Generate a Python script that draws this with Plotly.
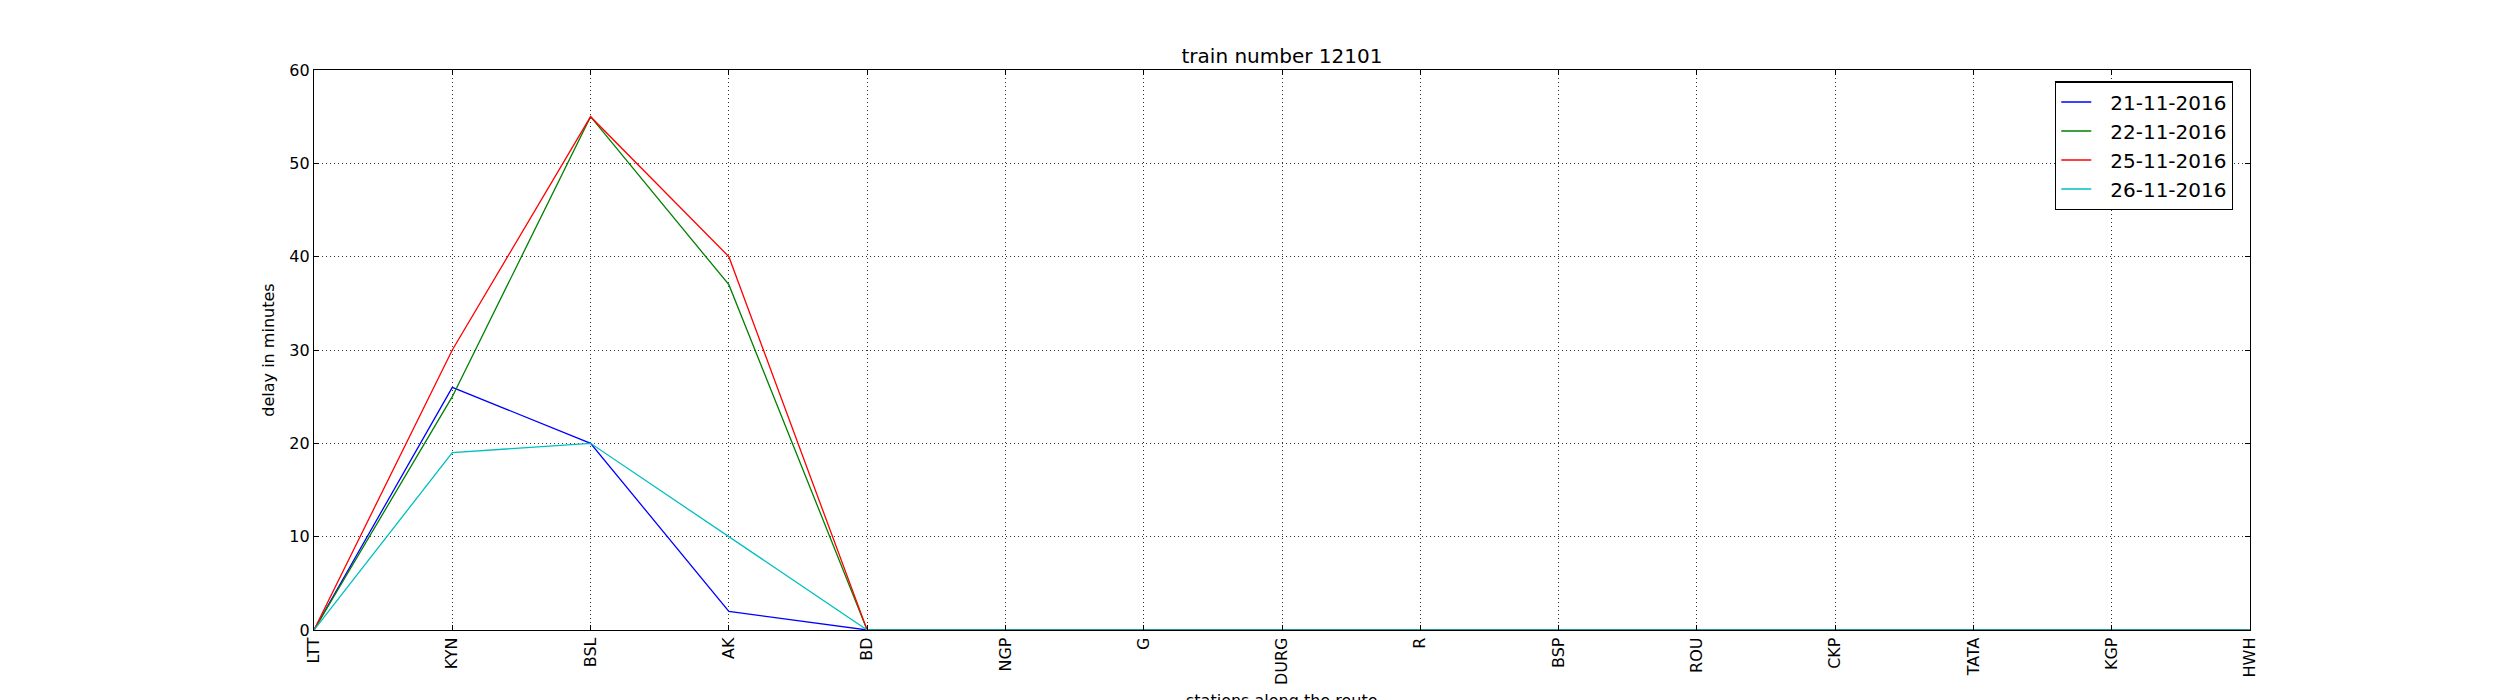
import plotly.graph_objects as go

stations = ['LTT', 'KYN', 'BSL', 'AK', 'BD', 'NGP', 'G', 'DURG', 'R', 'BSP',
            'ROU', 'CKP', 'TATA', 'KGP', 'HWH']

dates = ['21-11-2016', '22-11-2016', '25-11-2016', '26-11-2016']
delay_21 = [0, 26, 20, 2, 0, 0, 0, 0, 0, 0, 0, 0, 0, 0, 0]
delay_22 = [0, 25, 55, 37, 0, 0, 0, 0, 0, 0, 0, 0, 0, 0, 0]
delay_25 = [0, 30, 55, 40, 0, 0, 0, 0, 0, 0, 0, 0, 0, 0, 0]
delay_26 = [0, 19, 20, 10, 0, 0, 0, 0, 0, 0, 0, 0, 0, 0, 0]

colors = ['#0000ff', '#008000', '#ff0000', '#00bfbf']
font = 'DejaVu Sans'

fig = go.Figure()
for name, ys, c in zip(dates, [delay_21, delay_22, delay_25, delay_26], colors):
    # en space + thin space to open the gap between legend line and text
    fig.add_trace(go.Scatter(x=stations, y=ys, name='\u2002\u2009' + name,
                             mode='lines', line=dict(color=c, width=1.3)))

# matplotlib classic look: inside ticks, dotted black grid, full frame
axis_common = dict(
    showline=True, linecolor='black', linewidth=1.3, mirror='ticks',
    ticks='inside', ticklen=5, tickcolor='black',
    showgrid=True, gridcolor='#333333', gridwidth=0.8, griddash='1px,3px',
    zeroline=False, tickfont=dict(family=font, size=16, color='black'),
)

fig.update_xaxes(type='category', range=[0, len(stations) - 1], tickangle=-90,
                 **axis_common)
fig.update_yaxes(range=[0, 60], dtick=10, title=dict(text='delay in minutes',
                 font=dict(family=font, size=16, color='black'), standoff=10),
                 **axis_common)

fig.add_annotation(text='stations along the route', xref='paper', yref='paper',
                   x=0.5, y=-0.105, xanchor='center', yanchor='top',
                   showarrow=False, font=dict(family=font, size=16, color='black'))

fig.update_layout(
    width=2492, height=692,
    margin=dict(l=306, r=250, t=62, b=70),
    paper_bgcolor='white', plot_bgcolor='white',
    title=dict(text='train number 12101', x=0.5, xref='paper',
               y=0.9306, yref='container', yanchor='middle',
               font=dict(family=font, size=20, color='black')),
    legend=dict(x=0.9912, y=0.98, xanchor='right', yanchor='top',
                bordercolor='black', borderwidth=1.3, bgcolor='white',
                itemwidth=30, tracegroupgap=0,
                font=dict(family=font, size=20, color='black')),
    showlegend=True,
)

fig.write_html('out.html')
